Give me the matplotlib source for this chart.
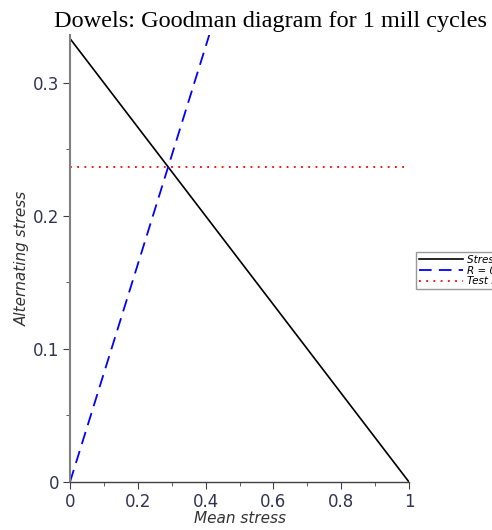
import matplotlib
matplotlib.use("Agg")
import matplotlib.pyplot as plt
import numpy as np

# Data
goodman_x = [0.0, 1.0]
goodman_y = [1/3, 0.0]
r_slope = 0.818
r_x = [0.0, 0.42]
test_stress = 0.2368
test_x = [0.0, 1.0]
labels = ["Stress limit", "R = 0.1", "Test stress"]
xticks = [0, 0.2, 0.4, 0.6, 0.8, 1]
xticklabels = ["0", "0.2", "0.4", "0.6", "0.8", "1"]
yticks = [0, 0.1, 0.2, 0.3]
yticklabels = ["0", "0.1", "0.2", "0.3"]

fig = plt.figure(figsize=(4.92, 5.30), dpi=100)
ax = fig.add_axes([70/492, 48/530, 339/492, 447/530])

ax.plot(goodman_x, goodman_y, color="black", lw=1.2, label=labels[0])
ax.plot(r_x, [r_slope * v for v in r_x], color="#0000ff", lw=1.3,
        dashes=(7, 4), label=labels[1])
ax.plot(test_x, [test_stress, test_stress], color="#ff0000", lw=1.3,
        ls=(0, (1, 3)), label=labels[2])

ax.set_xlim(0, 1)
ax.set_ylim(0, 0.336)
for s in ["top", "right"]:
    ax.spines[s].set_visible(False)
ax.spines["left"].set_color("#808080")
ax.spines["left"].set_linewidth(1.5)
ax.spines["bottom"].set_color("#404040")
ax.spines["bottom"].set_linewidth(1.0)

ax.set_xticks(xticks)
ax.set_xticklabels(xticklabels)
ax.set_yticks(yticks)
ax.set_yticklabels(yticklabels)
ax.set_xticks(np.arange(0.1, 1.0, 0.2), minor=True)
ax.set_yticks([0.05, 0.15, 0.25], minor=True)
ax.tick_params(axis="both", which="major", length=5, color="#404040",
               labelsize=12, labelcolor="#333355", direction="out", pad=3)
ax.tick_params(axis="both", which="minor", length=3, color="#404040")
for t in ax.get_xticklabels() + ax.get_yticklabels():
    t.set_family("DejaVu Sans")

ax.set_xlabel("Mean stress", fontsize=11, style="italic", family="DejaVu Sans",
              color="#333333", labelpad=0)
ax.set_ylabel("Alternating stress", fontsize=11, style="italic", family="DejaVu Sans",
              color="#333333", labelpad=2)

fig.text(270/492, 1 - 22/530, "Dowels: Goodman diagram for 1 mill cycles",
         family="Liberation Serif", fontsize=17.5, ha="center", va="center")

leg = ax.legend(loc="upper left", bbox_to_anchor=(416/339 - 70/339, (482-252)/447),
                prop={"style": "italic", "family": "DejaVu Sans", "size": 7.5},
                frameon=True, fancybox=False, borderpad=0.3, labelspacing=0.05,
                handlelength=4.2, handletextpad=0.4, borderaxespad=0)
leg.get_frame().set_edgecolor("#808080")
leg.get_frame().set_linewidth(1.0)

fig.savefig("out.png", dpi=100)
